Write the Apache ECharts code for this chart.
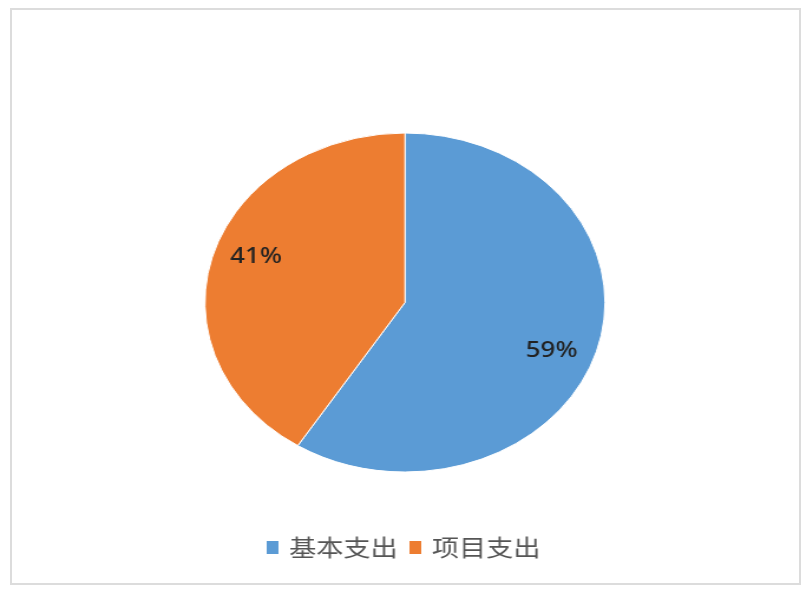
<!DOCTYPE html>
<html>
<head>
<meta charset="utf-8">
<script src="https://cdn.jsdelivr.net/npm/echarts@6/dist/echarts.min.js"></script>
<style>
  html, body { margin: 0; padding: 0; background: #fff; }
  #wrap { position: relative; width: 810px; height: 594px; overflow: hidden; background: #fff; }
  #frame { position: absolute; left: 10px; top: 8px; width: 787px; height: 573px; border: 2px solid #dcdcdc; }
  #chart { position: absolute; left: 0; top: 0; width: 686px; height: 594px; transform: scaleX(1.18); transform-origin: 0 0; }
</style>
</head>
<body>
<div id="wrap">
  <div id="frame"></div>
  <div id="chart"></div>
</div>
<script>
const categories = ['基本支出', '项目支出'];
const values = [59, 41];
const colors = ['#5B9BD5', '#ED7D31'];
const labelOffsets = [[40, 24], [-42, -21]];

const chart = echarts.init(document.getElementById('chart'));
chart.setOption({
  animation: false,
  color: colors,
  legend: {
    data: categories,
    left: 219,
    top: 531,
    icon: 'rect',
    itemWidth: 12,
    itemHeight: 15,
    itemGap: 8,
    textStyle: {
      fontFamily: 'Noto Sans CJK SC',
      fontSize: 23,
      color: '#555555',
      padding: [0, 0, 0, 3]
    }
  },
  series: [{
    type: 'pie',
    center: [343.2, 302.5],
    radius: 169.5,
    startAngle: 90,
    clockwise: true,
    data: categories.map((c, i) => ({ name: c, value: values[i] })),
    itemStyle: { borderColor: '#fff', borderWidth: 1 },
    label: {
      show: true,
      position: 'inside',
      formatter: '{c}%',
      fontFamily: 'Noto Sans',
      fontSize: 22,
      fontWeight: 500,
      color: '#222222'
    },
    labelLayout: function (p) {
      const o = labelOffsets[p.dataIndex];
      return { dx: o[0], dy: o[1] };
    },
    labelLine: { show: false },
    emphasis: { disabled: true }
  }]
});
</script>
</body>
</html>
